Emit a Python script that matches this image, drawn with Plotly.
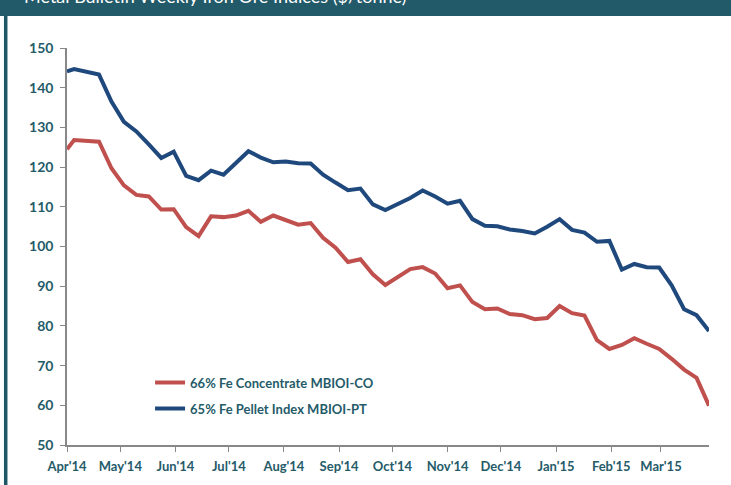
import plotly.graph_objects as go

dates = [
    "2014-04-01", "2014-04-05",
    "2014-04-19", "2014-04-26", "2014-05-03", "2014-05-10", "2014-05-17", "2014-05-24", "2014-05-31",
    "2014-06-07", "2014-06-14", "2014-06-21", "2014-06-28", "2014-07-05", "2014-07-12", "2014-07-19",
    "2014-07-26", "2014-08-02", "2014-08-09", "2014-08-16", "2014-08-23", "2014-08-30", "2014-09-06",
    "2014-09-13", "2014-09-20", "2014-09-27", "2014-10-04", "2014-10-11", "2014-10-18", "2014-10-25",
    "2014-11-01", "2014-11-08", "2014-11-15", "2014-11-22", "2014-11-29", "2014-12-06", "2014-12-13",
    "2014-12-20", "2014-12-27", "2015-01-03", "2015-01-10", "2015-01-17", "2015-01-24", "2015-01-31",
    "2015-02-07", "2015-02-14", "2015-02-21", "2015-02-28", "2015-03-07", "2015-03-14", "2015-03-21",
    "2015-03-28",
]

concentrate = [
    124.5, 126.8,
    126.4, 119.7, 115.4, 113.0, 112.6, 109.3, 109.4, 104.9, 102.6, 107.6, 107.4, 107.8, 109.0,
    106.2, 107.8, 106.6, 105.5, 105.9, 102.2, 99.7, 96.1, 96.8, 93.0, 90.3, 92.2, 94.3, 94.8,
    93.2, 89.5, 90.2, 86.0, 84.2, 84.4, 83.0, 82.7, 81.7, 82.0, 85.0, 83.2, 82.6, 76.4, 74.2,
    75.2, 76.9, 75.5, 74.2, 71.7, 69.0, 66.9, 59.9,
]

pellet = [
    144.1, 144.7,
    143.3, 136.5, 131.4, 129.0, 125.7, 122.3, 123.9, 117.8, 116.7, 119.1, 118.1, 121.0, 124.0,
    122.4, 121.2, 121.4, 121.0, 120.9, 118.1, 116.1, 114.2, 114.6, 110.6, 109.2, 110.6, 112.2,
    114.1, 112.6, 110.8, 111.5, 106.9, 105.2, 105.1, 104.3, 103.9, 103.3, 105.0, 106.9, 104.2,
    103.5, 101.2, 101.4, 94.2, 95.6, 94.8, 94.7, 90.2, 84.2, 82.7, 78.7,
]

series_names = ["66% Fe Concentrate MBIOI-CO", "65% Fe Pellet Index MBIOI-PT"]
title_text = "Metal Bulletin Weekly Iron Ore Indices ($/tonne)"

TEAL_TEXT = "#255b69"
TEAL_BAR = "#225a69"
FONT = "Lato"

fig = go.Figure()
fig.add_trace(go.Scatter(x=dates, y=concentrate, mode="lines", name=series_names[0],
                         line=dict(color="#C0504D", width=4), legendgroup="a"))
fig.add_trace(go.Scatter(x=dates, y=pellet, mode="lines", name=series_names[1],
                         line=dict(color="#1F497D", width=4), legendgroup="b"))

W, H = 731, 485
L, R, T, B = 67, 22.4, 48, 39.5
pw, ph = W - L - R, H - T - B

def px_x(px):
    return (px - L) / pw

def px_y(py):
    return 1 + (T - py) / ph

fig.update_layout(
    width=W, height=H,
    margin=dict(l=L, r=R, t=T, b=B, pad=0),
    paper_bgcolor="white", plot_bgcolor="white",
    font=dict(family=FONT, size=13, color=TEAL_TEXT, weight="bold"),
    showlegend=True,
    legend=dict(x=px_x(150), y=px_y(368), xanchor="left", yanchor="top",
                bgcolor="rgba(0,0,0,0)", traceorder="grouped", tracegroupgap=6,
                font=dict(family=FONT, size=13, color=TEAL_TEXT, weight="bold")),
    xaxis=dict(
        type="date", range=["2014-04-01", "2015-03-28"],
        tick0="2014-04-01", dtick="M1", tickformat="%b'%y",
        showgrid=False, zeroline=False,
        showline=True, linecolor="#888888", linewidth=1.5,
        ticks="outside", ticklen=5, tickcolor="#888888", tickwidth=1.2,
        ticklabelstandoff=4,
        tickfont=dict(family=FONT, size=13, color=TEAL_TEXT, weight="bold"),
    ),
    yaxis=dict(
        range=[50, 150], dtick=10, tick0=50,
        showgrid=False, zeroline=False,
        showline=True, linecolor="#888888", linewidth=1.5,
        ticks="outside", ticklen=5, tickcolor="#888888", tickwidth=1.2,
        ticklabelstandoff=4,
        tickfont=dict(family=FONT, size=14, color=TEAL_TEXT, weight="bold"),
    ),
    shapes=[
        dict(type="rect", xref="paper", yref="paper", layer="below",
             x0=px_x(0), x1=px_x(731), y0=px_y(16), y1=px_y(-2),
             fillcolor=TEAL_BAR, line=dict(width=0)),
        dict(type="rect", xref="paper", yref="paper", layer="below",
             x0=px_x(4), x1=px_x(7.5), y0=px_y(487), y1=px_y(16),
             fillcolor="#1d5766", line=dict(width=0)),
    ],
    annotations=[
        dict(text=title_text, xref="paper", yref="paper", x=px_x(22), y=px_y(9),
             xanchor="left", yanchor="bottom", showarrow=False,
             font=dict(family=FONT, size=18, color="white", weight="normal")),
    ],
)

fig.write_html(
    "out.html",
    config={"displayModeBar": False},
    post_script="document.body.style.margin='0';document.body.style.overflow='hidden';",
)
